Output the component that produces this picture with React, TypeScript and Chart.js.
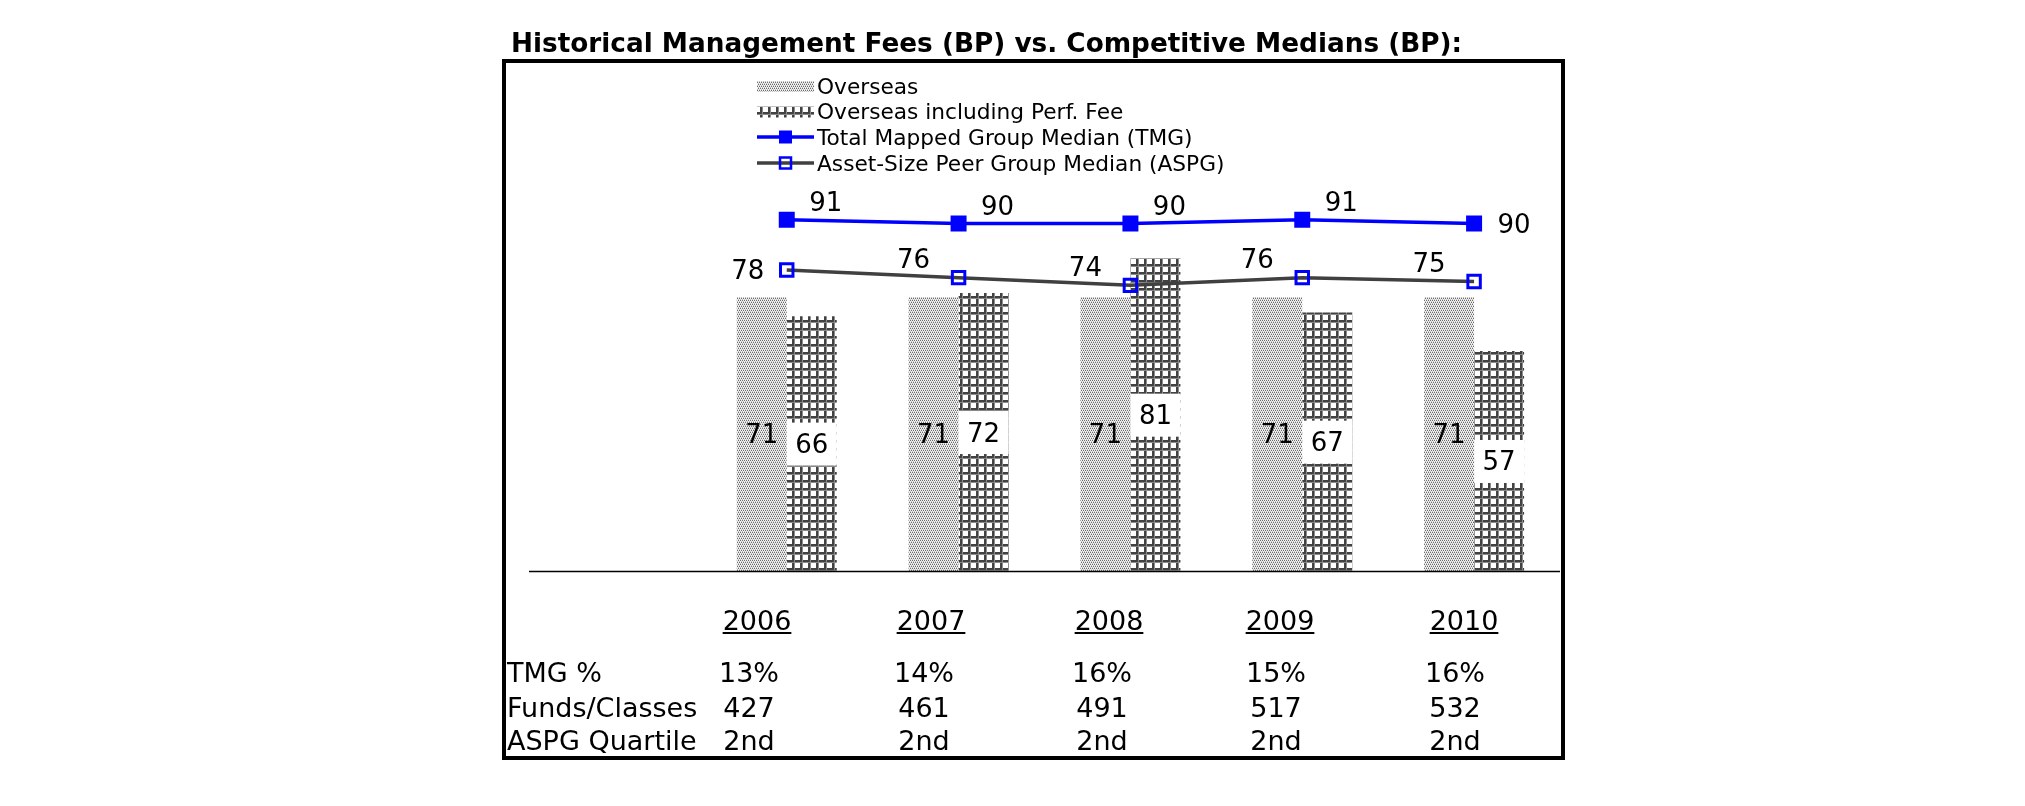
import React, { useEffect, useRef } from 'react';
import { Chart, registerables } from 'chart.js';

Chart.register(...registerables);

// ---------- data ----------
const titleText = 'Historical Management Fees (BP) vs. Competitive Medians (BP):';
const years = ['2006', '2007', '2008', '2009', '2010'];
const overseas = [71, 71, 71, 71, 71];
const overseasPerf = [66, 72, 81, 67, 57];
const tmgMedian = [91, 90, 90, 91, 90];
const aspgMedian = [78, 76, 74, 76, 75];
const seriesNames = [
  'Overseas',
  'Overseas including Perf. Fee',
  'Total Mapped Group Median (TMG)',
  'Asset-Size Peer Group Median (ASPG)',
];
const rowLabels = ['TMG %', 'Funds/Classes', 'ASPG Quartile'];
const tmgPct = ['13%', '14%', '16%', '15%', '16%'];
const fundsClasses = ['427', '461', '491', '517', '532'];
const aspgQuartile = ['2nd', '2nd', '2nd', '2nd', '2nd'];

// ---------- layout / style ----------
const W = 2025;
const H = 806;
const FONT = '"DejaVu Sans", Verdana, sans-serif';
const yearCenters = [757, 931, 1109, 1280, 1464];
const valueCenters = [749, 924, 1102, 1276, 1455];

function makeDotPattern(ctx: CanvasRenderingContext2D) {
  const c = document.createElement('canvas');
  c.width = 4;
  c.height = 4;
  const g = c.getContext('2d')!;
  g.fillStyle = '#f2f2f2';
  g.fillRect(0, 0, 4, 4);
  g.fillStyle = '#6c6c6c';
  [[0, 0], [2, 0], [1, 2], [3, 2]].forEach(([x, y]) => g.fillRect(x, y, 1, 1));
  g.fillStyle = '#c2c2c2';
  [[1, 1], [3, 1], [0, 3], [2, 3]].forEach(([x, y]) => g.fillRect(x, y, 1, 1));
  return ctx.createPattern(c, 'repeat')!;
}

function makeGridPattern(ctx: CanvasRenderingContext2D) {
  const p = 8;
  const c = document.createElement('canvas');
  c.width = p;
  c.height = p;
  const g = c.getContext('2d')!;
  g.fillStyle = '#ffffff';
  g.fillRect(0, 0, p, p);
  g.fillStyle = '#424242';
  g.fillRect(0, 0, p, 2);
  g.fillRect(0, 0, 2, p);
  g.fillStyle = '#8a8a8a';
  g.fillRect(0, 2, p, 1);
  g.fillRect(2, 0, 1, p);
  return ctx.createPattern(c, 'repeat')!;
}

const labelsPlugin = {
  id: 'valueLabels',
  afterDatasetsDraw(chart: any) {
    const ctx: CanvasRenderingContext2D = chart.ctx;
    const size = 26;
    const half = size * 0.365;
    ctx.save();
    ctx.font = `${size}px ${FONT}`;
    ctx.textAlign = 'center';
    ctx.textBaseline = 'alphabetic';

    // Overseas bars: label at bar centre, no box
    chart.getDatasetMeta(0).data.forEach((bar: any, i: number) => {
      const v = chart.data.datasets[0].data[i];
      if (v == null) return;
      const p = bar.getProps(['x', 'y', 'base'], true);
      ctx.fillStyle = '#000';
      ctx.fillText(String(v), p.x, (p.y + p.base) / 2 + half);
    });

    // Perf bars: white box across bar
    chart.getDatasetMeta(1).data.forEach((bar: any, i: number) => {
      const v = chart.data.datasets[1].data[i];
      if (v == null) return;
      const p = bar.getProps(['x', 'y', 'base', 'width'], true);
      const cy = (p.y + p.base) / 2;
      ctx.fillStyle = '#ffffff';
      ctx.fillRect(p.x - p.width / 2, cy - 21, p.width, 43);
      ctx.fillStyle = '#000';
      ctx.fillText(String(v), p.x, cy + half);
    });

    // TMG line labels
    const tmgMeta = chart.getDatasetMeta(2).data;
    const nT = tmgMeta.length;
    tmgMeta.forEach((pt: any, i: number) => {
      const v = chart.data.datasets[2].data[i];
      if (v == null) return;
      const last = i === nT - 1;
      const dx = last ? 40 : 39;
      const dy = last ? 0 : -18;
      ctx.fillStyle = '#000';
      ctx.fillText(String(v), pt.x + dx, pt.y + dy + half);
    });

    // ASPG line labels
    let first = true;
    chart.getDatasetMeta(3).data.forEach((pt: any, i: number) => {
      const v = chart.data.datasets[3].data[i];
      if (v == null) return;
      const dx = first ? -39 : -45;
      const dy = first ? 0 : -19;
      first = false;
      ctx.fillStyle = '#000';
      ctx.fillText(String(v), pt.x + dx, pt.y + dy + half);
    });
    ctx.restore();
  },
  afterDraw(chart: any) {
    const ctx: CanvasRenderingContext2D = chart.ctx;
    const area = chart.chartArea;
    ctx.save();
    // category axis baseline
    ctx.strokeStyle = '#000';
    ctx.lineWidth = 1.5;
    ctx.beginPath();
    ctx.moveTo(area.left, area.bottom + 0.5);
    ctx.lineTo(area.right, area.bottom + 0.5);
    ctx.stroke();

    // legend
    const sx0 = 757;
    const sx1 = 814;
    const tx = 817;
    const rows = [86, 111.5, 137, 163];
    const ds = chart.data.datasets;
    const fs = 21.7;
    ctx.font = `${fs}px ${FONT}`;
    ctx.textAlign = 'left';
    ctx.textBaseline = 'alphabetic';
    rows.forEach((cy, i) => {
      const d = ds[i];
      if (i < 2) {
        ctx.fillStyle = d.backgroundColor;
        ctx.fillRect(sx0, cy - 5, sx1 - sx0, 11);
      } else {
        ctx.strokeStyle = d.borderColor;
        ctx.lineWidth = 3.5;
        ctx.beginPath();
        ctx.moveTo(sx0, cy);
        ctx.lineTo(sx1, cy);
        ctx.stroke();
        const mx = (sx0 + sx1) / 2;
        if (i === 2) {
          ctx.fillStyle = d.pointBackgroundColor;
          ctx.fillRect(mx - 6.5, cy - 6.5, 13, 13);
        } else {
          ctx.strokeStyle = d.pointBorderColor;
          ctx.lineWidth = 2.5;
          ctx.strokeRect(mx - 5.5, cy - 5.5, 11, 11);
        }
      }
      ctx.fillStyle = '#000';
      ctx.fillText(d.label, tx, cy + fs * 0.365);
    });
    ctx.restore();
  },
};

function ChartCanvas() {
  const ref = useRef<HTMLCanvasElement | null>(null);
  useEffect(() => {
    const canvas = ref.current!;
    const ctx = canvas.getContext('2d')!;
    const dot = makeDotPattern(ctx);
    const grid = makeGridPattern(ctx);
    const labels = ['', ...years];
    const chart = new Chart(ctx, {
      type: 'bar',
      data: {
        labels,
        datasets: [
          {
            type: 'bar',
            label: seriesNames[0],
            data: [null, ...overseas],
            backgroundColor: dot,
            borderWidth: 0,
            categoryPercentage: 0.582,
            barPercentage: 1,
            order: 2,
          },
          {
            type: 'bar',
            label: seriesNames[1],
            data: [null, ...overseasPerf],
            backgroundColor: grid,
            borderWidth: 0,
            categoryPercentage: 0.582,
            barPercentage: 1,
            order: 2,
          },
          {
            type: 'line',
            label: seriesNames[2],
            data: [null, ...tmgMedian],
            borderColor: '#0000ff',
            borderWidth: 3.5,
            pointStyle: 'rect',
            pointRadius: 11.3,
            pointBackgroundColor: '#0000ff',
            pointBorderColor: '#0000ff',
            pointBorderWidth: 0,
            tension: 0,
            order: 0,
          },
          {
            type: 'line',
            label: seriesNames[3],
            data: [null, ...aspgMedian],
            borderColor: '#404040',
            borderWidth: 3.5,
            pointStyle: 'rect',
            pointRadius: 8.8,
            pointBackgroundColor: 'rgba(0,0,0,0)',
            pointBorderColor: '#0000ff',
            pointBorderWidth: 3,
            tension: 0,
            order: 1,
          },
        ] as any,
      },
      options: {
        responsive: false,
        maintainAspectRatio: false,
        animation: false,
        events: [],
        layout: {
          padding: { left: 529, right: W - 1560, top: 185, bottom: H - 571 },
        },
        plugins: {
          legend: { display: false },
          tooltip: { enabled: false },
          title: { display: false },
        },
        scales: {
          x: { display: false, offset: true },
          y: { display: false, min: 0, max: 100 },
        },
      },
      plugins: [labelsPlugin],
    });
    return () => chart.destroy();
  }, []);
  return (
    <canvas
      ref={ref}
      width={W}
      height={H}
      style={{ position: 'absolute', left: 0, top: 0, width: W, height: H }}
    />
  );
}

const TABLE_FS = 27;
const textBase: React.CSSProperties = {
  position: 'absolute',
  fontFamily: FONT,
  fontSize: TABLE_FS,
  lineHeight: `${TABLE_FS}px`,
  color: '#000',
  whiteSpace: 'nowrap',
};
const ascentOff = Math.round(TABLE_FS * 0.846);

function Cell({ text, cx, baseline, underline }: { text: string; cx: number; baseline: number; underline?: boolean }) {
  return (
    <div
      style={{
        ...textBase,
        left: cx - 80,
        width: 160,
        top: baseline - ascentOff,
        textAlign: 'center',
        textDecoration: underline ? 'underline' : 'none',
        textDecorationThickness: underline ? '2px' : undefined,
        textUnderlineOffset: underline ? '2px' : undefined,
      }}
    >
      {text}
    </div>
  );
}

export default function App() {
  const rowBaselines = [682, 717, 750];
  const rowValues = [tmgPct, fundsClasses, aspgQuartile];
  return (
    <div
      style={{
        position: 'absolute',
        left: 0,
        top: 0,
        width: W,
        height: H,
        background: '#fff',
        overflow: 'hidden',
      }}
    >
      <ChartCanvas />
      <div
        style={{
          position: 'absolute',
          left: 502,
          top: 59,
          width: 1063,
          height: 701,
          border: '4px solid #000',
          boxSizing: 'border-box',
        }}
      />
      <div
        style={{
          ...textBase,
          fontSize: 26.3,
          lineHeight: '26px',
          left: 511,
          top: 52 - 22,
          fontWeight: 'bold',
        }}
      >
        {titleText}
      </div>
      {years.map((y, i) => (
        <Cell key={'y' + y} text={y} cx={yearCenters[i]} baseline={630} underline />
      ))}
      {rowLabels.map((lab, r) => (
        <div key={lab} style={{ ...textBase, left: 507, top: rowBaselines[r] - ascentOff }}>
          {lab}
        </div>
      ))}
      {rowValues.map((vals, r) =>
        vals.map((v, i) => (
          <Cell key={`r${r}c${i}`} text={v} cx={valueCenters[i]} baseline={rowBaselines[r]} />
        ))
      )}
    </div>
  );
}
